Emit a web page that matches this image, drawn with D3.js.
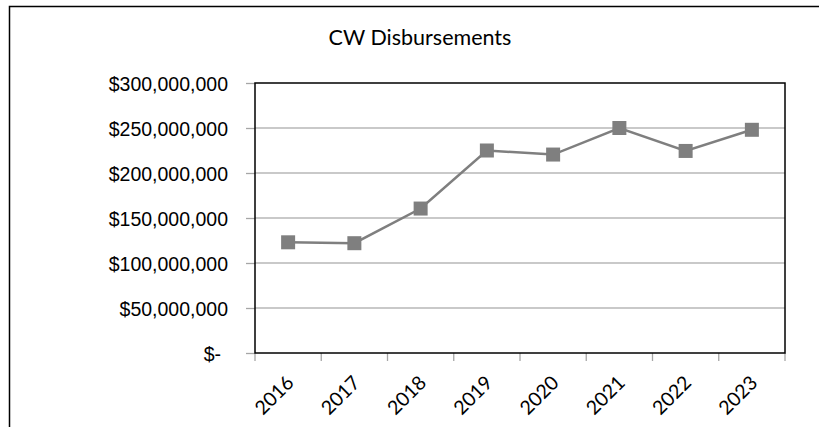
<!DOCTYPE html>
<head>
    <meta charset="utf-8">
    <title>CW Disbursements</title>
    <script src="https://d3js.org/d3.v7.min.js"></script>
    <style>
        body {
            margin: 0;
            background: #fff;
            overflow: hidden;
        }
        svg {
            display: block;
            font-family: Lato, "Open Sans", sans-serif;
        }
        .grid line {
            stroke: #b7b7b7;
            stroke-width: 1.3px;
        }
        .axis path {
            display: none;
        }
        .axis line {
            stroke: #a6a6a6;
            stroke-width: 1.3px;
        }
        .axis text {
            fill: #000;
            font-size: 19.5px;
        }
    </style>
</head>
<body>
    <svg id="chart" width="819" height="427"></svg>
    <script>
        // data
        var years = ["2016", "2017", "2018", "2019", "2020", "2021", "2022", "2023"];
        var disbursements = [123000000, 122000000, 160500000, 225000000, 220500000, 250000000, 224500000, 248000000];
        var yTicks = [0, 50000000, 100000000, 150000000, 200000000, 250000000, 300000000];

        var svg = d3.select("#chart");
        var plot = { left: 255, top: 83, right: 785, bottom: 353 };

        // chart area border, only its left and top edges are in view
        svg.append("path")
            .attr("d", "M9.5,427V6.5H819")
            .attr("fill", "none")
            .attr("stroke", "#000")
            .attr("stroke-width", 1.5);

        svg.append("text")
            .attr("x", 420).attr("y", 45)
            .attr("text-anchor", "middle")
            .style("font-size", "21.5px")
            .text("CW Disbursements");

        var x = d3.scaleBand().domain(years).range([plot.left, plot.right]);
        var y = d3.scaleLinear().domain([0, 300000000]).range([plot.bottom, plot.top]);

        var money = function (d) {
            return d === 0 ? "$-" : "$" + d3.format(",")(d);
        };

        // gridlines
        svg.append("g").attr("class", "grid")
            .selectAll("line")
            .data(yTicks.slice(1, -1))
            .enter().append("line")
            .attr("x1", plot.left).attr("x2", plot.right)
            .attr("y1", function (d) { return y(d); })
            .attr("y2", function (d) { return y(d); });

        // y axis
        var yAxis = svg.append("g").attr("class", "axis")
            .attr("transform", "translate(" + plot.left + ",0)")
            .call(d3.axisLeft(y).tickValues(yTicks).tickFormat(money).tickSize(9).tickPadding(18));
        yAxis.selectAll("text")
            .attr("dy", "0.36em")
            // accounting format pads the zero label on the right
            .attr("dx", function (d) { return d === 0 ? -7 : 0; });

        // x axis: ticks at category boundaries
        var xAxis = svg.append("g").attr("class", "axis")
            .attr("transform", "translate(0," + plot.bottom + ")");
        xAxis.selectAll("line")
            .data(d3.range(years.length + 1))
            .enter().append("line")
            .attr("x1", function (i) { return plot.left + i * x.bandwidth(); })
            .attr("x2", function (i) { return plot.left + i * x.bandwidth(); })
            .attr("y1", 0).attr("y2", 8);
        xAxis.selectAll("text")
            .data(years)
            .enter().append("text")
            .attr("text-anchor", "end")
            .attr("dy", "0.36em")
            .attr("transform", function (d) {
                return "translate(" + (x(d) + x.bandwidth() / 2 + 2) + ",26) rotate(-45)";
            })
            .text(function (d) { return d; });

        // plot area border
        svg.append("rect")
            .attr("x", plot.left).attr("y", plot.top)
            .attr("width", plot.right - plot.left)
            .attr("height", plot.bottom - plot.top)
            .attr("fill", "none")
            .attr("stroke", "#000")
            .attr("stroke-width", 1.5);

        var pts = years.map(function (d, i) {
            return [x(d) + x.bandwidth() / 2, y(disbursements[i])];
        });

        svg.append("path")
            .attr("d", d3.line()(pts))
            .attr("fill", "none")
            .attr("stroke", "#7f7f7f")
            .attr("stroke-width", 2.5);

        svg.selectAll(".marker")
            .data(pts)
            .enter().append("rect")
            .attr("class", "marker")
            .attr("x", function (p) { return p[0] - 7; })
            .attr("y", function (p) { return p[1] - 7; })
            .attr("width", 14).attr("height", 14)
            .attr("fill", "#7f7f7f");
    </script>
</body>
